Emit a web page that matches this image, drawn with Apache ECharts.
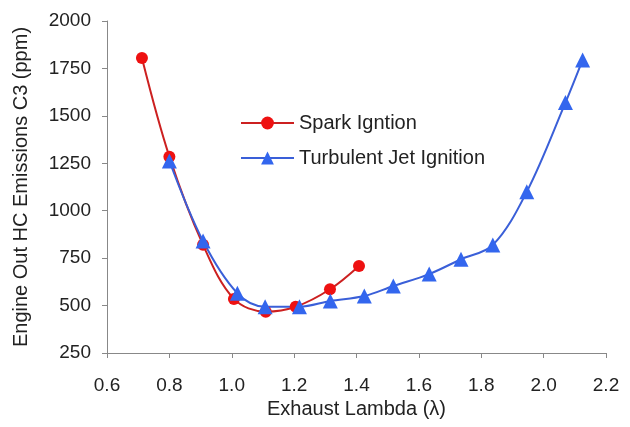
<!DOCTYPE html>
<html>
<head>
<meta charset="utf-8">
<script src="https://cdn.jsdelivr.net/npm/echarts@6/dist/echarts.min.js"></script>
<style>html,body{margin:0;padding:0;background:#fff}#c{width:630px;height:427px}</style>
</head>
<body>
<div id="c"></div>
<script>
const seriesNames = ['Spark Igntion', 'Turbulent Jet Ignition'];
const sparkLambda = [0.712, 0.80, 0.908, 1.007, 1.109, 1.205, 1.315, 1.408];
const sparkHC = [1805, 1285, 820, 535, 468, 494, 586, 709];
const tjiLambda = [0.80, 0.908, 1.018, 1.107, 1.217, 1.316, 1.425, 1.518, 1.633, 1.735, 1.837, 1.946, 2.07, 2.125];
const tjiHC = [1262, 840, 565, 494, 494, 524, 550, 603, 666, 744, 819, 1100, 1570, 1795];
const xTicks = {min: 0.6, max: 2.2, interval: 0.2};
const yTicks = {min: 250, max: 2000, interval: 250};
const xTitle = 'Exhaust Lambda (λ)';
const yTitle = 'Engine Out HC Emissions C3 (ppm)';

const font = 'Liberation Sans, Arial, sans-serif';
const zip = (a, b) => a.map((v, i) => [v, b[i]]);
const chart = echarts.init(document.getElementById('c'), null, {renderer: 'canvas'});
const axisCommon = {
  axisLine: {show: true, lineStyle: {color: '#888', width: 1}},
  axisTick: {show: true, inside: false, length: 5, lineStyle: {color: '#888'}},
  splitLine: {show: false},
  axisLabel: {color: '#222', fontSize: 19, fontFamily: font},
  nameTextStyle: {color: '#222', fontSize: 20, fontFamily: font}
};
chart.setOption({
  animation: false,
  backgroundColor: '#fff',
  grid: {left: 107, right: 24, top: 21, bottom: 74},
  legend: {
    orient: 'vertical', left: 240, top: 113, itemGap: 15, padding: 0,
    itemWidth: 53, itemHeight: 16,
    textStyle: {fontSize: 20, fontFamily: font, color: '#222'},
    data: seriesNames
  },
  xAxis: Object.assign({}, axisCommon, {
    type: 'value', min: xTicks.min, max: xTicks.max, interval: xTicks.interval,
    name: xTitle, nameLocation: 'middle', nameGap: 43,
    axisLabel: Object.assign({}, axisCommon.axisLabel, {margin: 23, formatter: v => v.toFixed(1)})
  }),
  yAxis: Object.assign({}, axisCommon, {
    type: 'value', min: yTicks.min, max: yTicks.max, interval: yTicks.interval,
    name: yTitle, nameLocation: 'middle', nameGap: 76, nameRotate: 90,
    axisLabel: Object.assign({}, axisCommon.axisLabel, {margin: 16, formatter: v => String(v)})
  }),
  series: [
    {
      name: seriesNames[0], type: 'line', smooth: 0.35,
      data: zip(sparkLambda, sparkHC),
      symbol: 'circle', symbolSize: 12,
      itemStyle: {color: '#ee1111'},
      lineStyle: {color: '#cc2020', width: 2}
    },
    {
      name: seriesNames[1], type: 'line', smooth: 0.35,
      data: zip(tjiLambda, tjiHC),
      symbol: 'triangle', symbolSize: 15,
      itemStyle: {color: '#3366ee'},
      lineStyle: {color: '#3a5fd8', width: 2}
    }
  ]
});
</script>
</body>
</html>
